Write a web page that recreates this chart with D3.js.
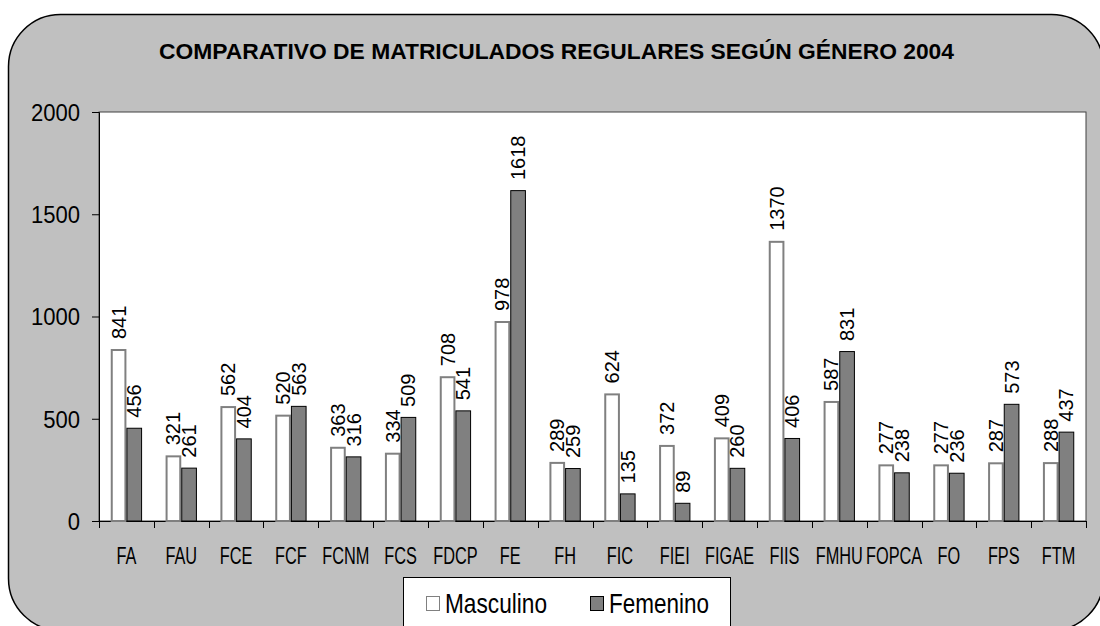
<!DOCTYPE html>
<html>
<head>
<meta charset="utf-8">
<script src="https://cdn.jsdelivr.net/npm/d3@7"></script>
<style>
html,body{margin:0;padding:0;background:#fff;}
svg{display:block;}
text{font-family:"Liberation Sans",Arial,sans-serif;fill:#000;}
</style>
</head>
<body>
<svg id="chart" width="1100" height="626"></svg>
<script>
const titleText = "COMPARATIVO DE MATRICULADOS REGULARES SEGÚN GÉNERO 2004";
const categories = ["FA","FAU","FCE","FCF","FCNM","FCS","FDCP","FE","FH","FIC","FIEI","FIGAE","FIIS","FMHU","FOPCA","FO","FPS","FTM"];
const seriesNames = ["Masculino","Femenino"];
const masculino = [841,321,562,520,363,334,708,978,289,624,372,409,1370,587,277,277,287,288];
const femenino  = [456,261,404,563,316,509,541,1618,259,135,89,260,406,831,238,236,573,437];
const yTicks = [0,500,1000,1500,2000];

const svg = d3.select("#chart");
const W = 1100, H = 626;
const plot = {left: 99, top: 112, right: 1086, bottom: 521};

// chart area
svg.append("rect")
  .attr("x", 8.5).attr("y", 14.5).attr("width", 1095).attr("height", 616)
  .attr("rx", 52).attr("ry", 52)
  .attr("fill", "#c0c0c0").attr("stroke", "#000").attr("stroke-width", 1.5);

// title
svg.append("text")
  .attr("x", 556.5).attr("y", 59)
  .attr("text-anchor", "middle")
  .attr("font-size", 22).attr("font-weight", "bold")
  .attr("textLength", 795).attr("lengthAdjust", "spacingAndGlyphs")
  .text(titleText);

// scales
const x = d3.scaleBand().domain(categories)
  .range([plot.left, plot.right])
  .paddingInner(1.5/3.5).paddingOuter(0.75/3.5);
const xs = d3.scaleBand().domain(seriesNames).range([0, x.bandwidth()]);
const y = d3.scaleLinear().domain([0, 2000]).range([plot.bottom, plot.top]);

// plot area
svg.append("rect")
  .attr("x", plot.left).attr("y", plot.top)
  .attr("width", plot.right - plot.left).attr("height", plot.bottom - plot.top)
  .attr("fill", "#fff").attr("stroke", "#404040").attr("stroke-width", 1);

// y axis
const yAxis = d3.axisLeft(y).tickValues(yTicks).tickSize(7).tickPadding(12).tickFormat(d3.format("d"));
const gy = svg.append("g").attr("transform", `translate(${plot.left},0)`).call(yAxis);
gy.select(".domain").attr("stroke", "#000");
gy.selectAll(".tick line").attr("stroke", "#000");
gy.selectAll(".tick text")
  .attr("font-size", 24)
  .attr("font-family", "Liberation Sans, Arial, sans-serif")
  .attr("fill", "#000")
  .attr("dy", "0.35em")
  .each(function() {
    const t = d3.select(this);
    const xx = +t.attr("x");
    t.attr("transform", `translate(${xx},0) scale(0.92,1)`).attr("x", 0);
  });

// x axis
const bounds = categories.map(c => x(c) - (x.step() - x.bandwidth())/2);
bounds.push(plot.right);
const gx = svg.append("g");
gx.append("line").attr("x1", plot.left).attr("x2", plot.right)
  .attr("y1", plot.bottom + 0.5).attr("y2", plot.bottom + 0.5).attr("stroke", "#000");
gx.selectAll("line.tk").data(bounds).join("line").attr("class", "tk")
  .attr("x1", d => Math.round(d) + 0.5).attr("x2", d => Math.round(d) + 0.5)
  .attr("y1", plot.bottom).attr("y2", plot.bottom + 7).attr("stroke", "#000");
gx.selectAll("text").data(categories).join("text")
  .attr("transform", d => `translate(${x(d) + x.bandwidth()/2},564) scale(0.68,1)`)
  .attr("text-anchor", "middle").attr("font-size", 24)
  .text(d => d);

// bars
const rows = categories.map((c, i) => ({cat: c, vals: [
  {s: "Masculino", v: masculino[i]},
  {s: "Femenino", v: femenino[i]}
]}));
const groups = svg.append("g").selectAll("g").data(rows).join("g")
  .attr("transform", d => `translate(${x(d.cat)},0)`);
groups.selectAll("rect").data(d => d.vals).join("rect")
  .attr("x", d => xs(d.s) + (d.s === "Masculino" ? 1 : 0.5))
  .attr("y", d => y(d.v) + (d.s === "Masculino" ? 1 : 0.5))
  .attr("width", d => xs.bandwidth() - (d.s === "Masculino" ? 2 : 1))
  .attr("height", d => y(0) - y(d.v) - (d.s === "Masculino" ? 1 : 0.5))
  .attr("fill", d => d.s === "Masculino" ? "#fff" : "#808080")
  .attr("stroke", d => d.s === "Masculino" ? "#808080" : "#000")
  .attr("stroke-width", d => d.s === "Masculino" ? 2 : 1);
groups.selectAll("text").data(d => d.vals).join("text")
  .attr("transform", d => `translate(${xs(d.s) + xs.bandwidth()/2},${y(d.v) - 10}) rotate(-90)`)
  .attr("dy", "0.35em").attr("font-size", 20)
  .text(d => d.v);

// legend
const lg = svg.append("g");
lg.append("rect").attr("x", 403.5).attr("y", 577.5).attr("width", 327).attr("height", 60)
  .attr("fill", "#fff").attr("stroke", "#000").attr("stroke-width", 1);
const legendItems = [
  {name: seriesNames[0], x: 426, fill: "#fff", stroke: "#808080", tw: 102},
  {name: seriesNames[1], x: 590, fill: "#808080", stroke: "#000", tw: 100}
];
legendItems.forEach(it => {
  lg.append("rect").attr("x", it.x + 0.5).attr("y", 596.5).attr("width", 13).attr("height", 14)
    .attr("fill", it.fill).attr("stroke", it.stroke).attr("stroke-width", 1);
  lg.append("text").attr("x", it.x + 19).attr("y", 613)
    .attr("font-size", 28).attr("textLength", it.tw).attr("lengthAdjust", "spacingAndGlyphs")
    .text(it.name);
});
</script>
</body>
</html>
